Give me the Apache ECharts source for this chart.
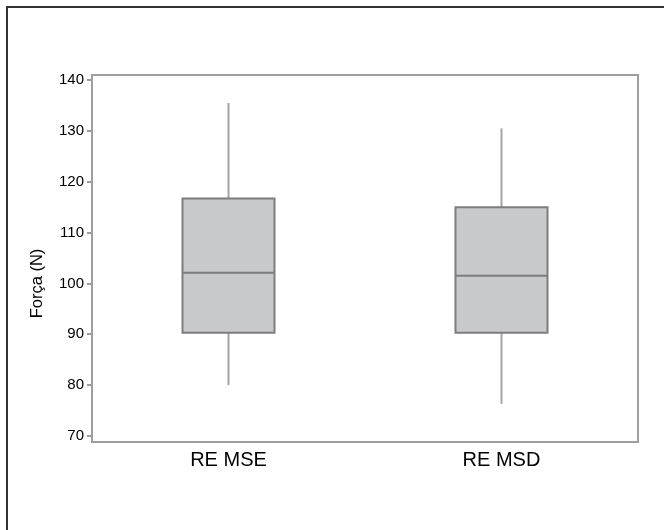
<!DOCTYPE html>
<html>
<head>
<meta charset="utf-8">
<script src="https://cdn.jsdelivr.net/npm/echarts@6/dist/echarts.min.js"></script>
<style>
  body { margin: 0; background: #fff; }
  #frame { position: absolute; left: 6px; top: 6px; width: 700px; height: 600px;
           border-left: 2px solid #333; border-top: 2px solid #333; }
  #chart { position: absolute; left: 0; top: 0; width: 664px; height: 530px; }
</style>
</head>
<body>
<div id="frame"></div>
<div id="chart"></div>
<script>
// categorias e valores (min, Q1, mediana, Q3, max)
var categories = ['RE MSE', 'RE MSD'];
var lowValues    = [80.0, 76.3];
var q1Values     = [90.3, 90.3];
var medianValues = [102.1, 101.5];
var q3Values     = [116.7, 115.0];
var highValues   = [135.5, 130.5];
var yTicks = [70, 80, 90, 100, 110, 120, 130, 140];

var boxData = [];
for (var i = 0; i < categories.length; i++) {
	boxData.push([i, lowValues[i], q1Values[i], medianValues[i], q3Values[i], highValues[i]]);
}

var FONT = '"Liberation Sans", Arial, Helvetica, sans-serif';
var AXIS_COLOR = '#9e9e9e';

function renderBox(params, api) {
	var x = api.value(0);
	var low = api.coord([x, api.value(1)]);
	var q1 = api.coord([x, api.value(2)]);
	var med = api.coord([x, api.value(3)]);
	var q3 = api.coord([x, api.value(4)]);
	var high = api.coord([x, api.value(5)]);
	var half = api.size([1, 0])[0] * 0.337 / 2;
	var cx = q1[0];
	var whiskerStyle = { stroke: '#a5a5a5', lineWidth: 2 };
	var boxStroke = '#7d7d7d';
	return {
		type: 'group',
		children: [
			{ type: 'line', shape: { x1: cx, y1: high[1], x2: cx, y2: q3[1] }, style: whiskerStyle },
			{ type: 'line', shape: { x1: cx, y1: q1[1], x2: cx, y2: low[1] }, style: whiskerStyle },
			{ type: 'rect', shape: { x: cx - half, y: q3[1], width: half * 2, height: q1[1] - q3[1] },
			  style: { fill: '#c8c9cb', stroke: boxStroke, lineWidth: 2 } },
			{ type: 'line', shape: { x1: cx - half, y1: med[1], x2: cx + half, y2: med[1] },
			  style: { stroke: boxStroke, lineWidth: 2 } }
		]
	};
}

var myChart = echarts.init(document.getElementById('chart'));
var option = {
	animation: false,
	backgroundColor: 'transparent',
	grid: {
		left: 92, right: 26, top: 75, bottom: 88,
		show: true,
		borderColor: AXIS_COLOR,
		borderWidth: 2
	},
	xAxis: {
		type: 'category',
		data: categories,
		axisLine: { lineStyle: { color: AXIS_COLOR, width: 2 } },
		axisTick: { alignWithLabel: true, length: 4, lineStyle: { color: AXIS_COLOR, width: 2 } },
		axisLabel: { color: '#000', fontSize: 20, fontFamily: FONT, margin: 8 },
		splitLine: { show: false }
	},
	yAxis: {
		type: 'value',
		min: 68.8,
		max: 141,
		name: 'Força (N)',
		nameLocation: 'middle',
		nameGap: 46,
		nameTextStyle: { color: '#000', fontSize: 16.5, fontFamily: FONT, padding: [0, 50, 0, 0] },
		axisLine: { show: true, lineStyle: { color: AXIS_COLOR, width: 2 } },
		axisTick: { show: true, length: 5, customValues: yTicks, lineStyle: { color: AXIS_COLOR, width: 2 } },
		axisLabel: { color: '#000', fontSize: 15, fontFamily: FONT, margin: 8, customValues: yTicks },
		splitLine: { show: false }
	},
	series: [{
		type: 'custom',
		renderItem: renderBox,
		encode: { x: 0, y: [1, 2, 3, 4, 5] },
		data: boxData
	}]
};
if (option && typeof option === "object") {
	myChart.setOption(option, true);
}
</script>
</body>
</html>
